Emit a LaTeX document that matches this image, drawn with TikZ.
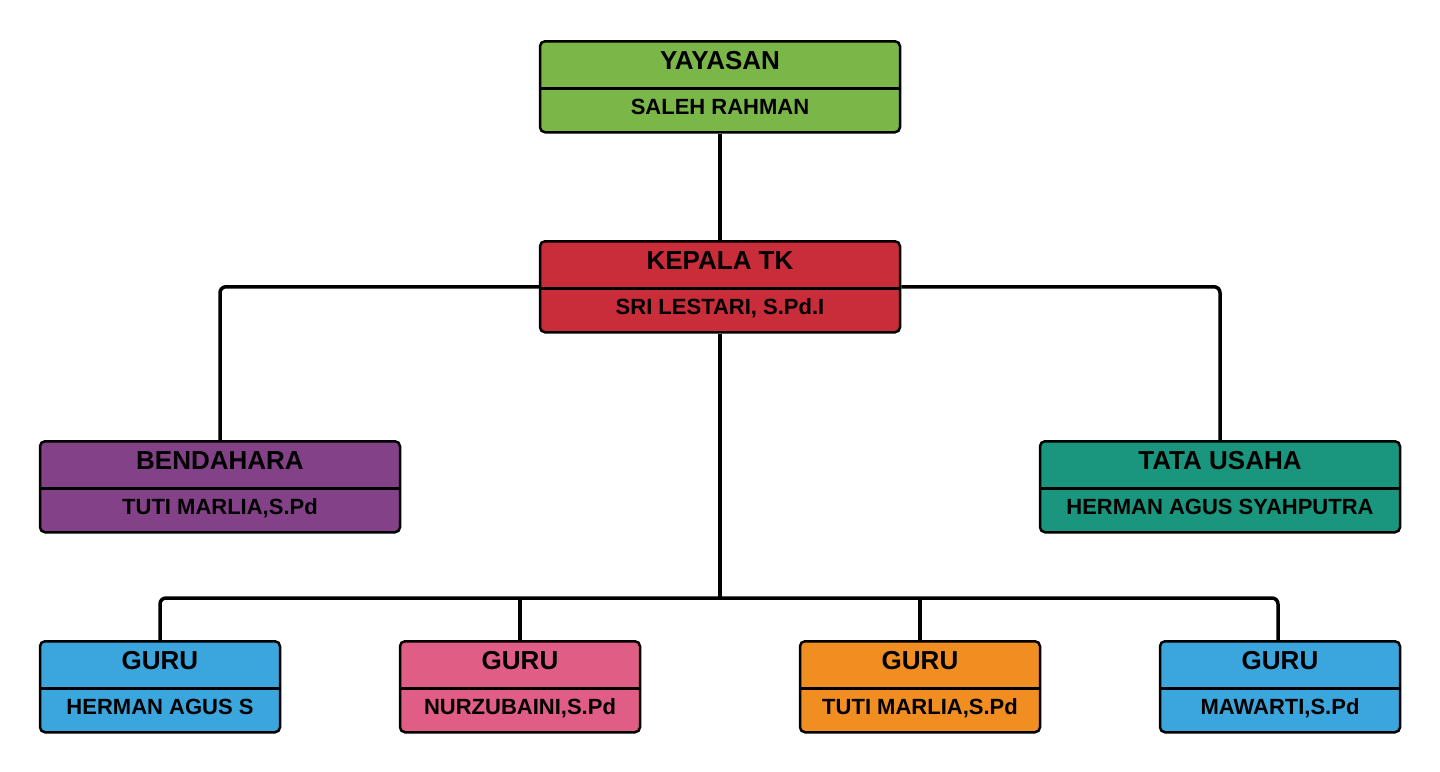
\documentclass[tikz,border=0pt]{standalone}
\usepackage{fontspec}
\setmainfont{Liberation Sans}
\definecolor{cgreen}{HTML}{7AB648}
\definecolor{cred}{HTML}{C92D39}
\definecolor{cpurple}{HTML}{834187}
\definecolor{cteal}{HTML}{19967D}
\definecolor{cblue}{HTML}{3AA6DD}
\definecolor{cpink}{HTML}{E05D85}
\definecolor{corange}{HTML}{F08E22}
\tikzset{
  orgbox/.style={draw=black, line width=2.5pt, rounded corners=5pt, inner sep=0pt, minimum height=91pt},
  divline/.style={line width=2.5pt},
  titletext/.style={anchor=base, inner sep=0pt, font=\bfseries\fontsize{26}{30}\selectfont},
  nametext/.style={anchor=base, inner sep=0pt, font=\bfseries\fontsize{22}{26}\selectfont},
  conn/.style={line width=3.5pt, rounded corners=6pt},
}
% #1 name, #2 cx, #3 top, #4 width, #5 colour, #6 title, #7 subtitle
\newcommand{\orgunit}[7]{%
  \node[orgbox, fill=#5, minimum width=#4 pt, anchor=north] (#1) at (#2,#3) {};
  \draw[divline] (#1.west |- 0,#3+48.5) -- (#1.east |- 0,#3+48.5);
  \node[titletext] (#1-t) at (#2,#3+29.5) {#6};
  \node[nametext] (#1-n) at (#2,#3+74) {#7};
}
\begin{document}
\begin{tikzpicture}[x=1pt,y=-1pt]
\useasboundingbox (0,0) rectangle (1440,771);
\fill[white] (0,0) rectangle (1440,771);

\coordinate (bus) at (720,598);

\orgunit{yay}{720}{40}{360}{cgreen}{YAYASAN}{SALEH RAHMAN}
\orgunit{kep}{720}{240}{360}{cred}{KEPALA TK}{SRI LESTARI, S.Pd.I}
\orgunit{bend}{220}{440}{360}{cpurple}{BENDAHARA}{TUTI MARLIA,S.Pd}
\orgunit{tata}{1220}{440}{360}{cteal}{TATA USAHA}{HERMAN AGUS SYAHPUTRA}
\orgunit{g1}{160}{640}{240}{cblue}{GURU}{HERMAN AGUS S}
\orgunit{g2}{520}{640}{240}{cpink}{GURU}{NURZUBAINI,S.Pd}
\orgunit{g3}{920}{640}{240}{corange}{GURU}{TUTI MARLIA,S.Pd}
\orgunit{g4}{1280}{640}{240}{cblue}{GURU}{MAWARTI,S.Pd}

\draw[conn] (yay.south) -- (kep.north);
\draw[conn] (kep.west) -| (bend.north);
\draw[conn] (kep.east) -| (tata.north);
\draw[conn] (kep.south) -- (bus);
\coordinate (g4top) at ([xshift=-2pt]g4.north);
\draw[conn] (g1.north) |- (bus) -| (g4top);
\draw[conn] (g2.north) -- (g2.north |- bus);
\draw[conn] (g3.north) -- (g3.north |- bus);
\end{tikzpicture}
\end{document}
